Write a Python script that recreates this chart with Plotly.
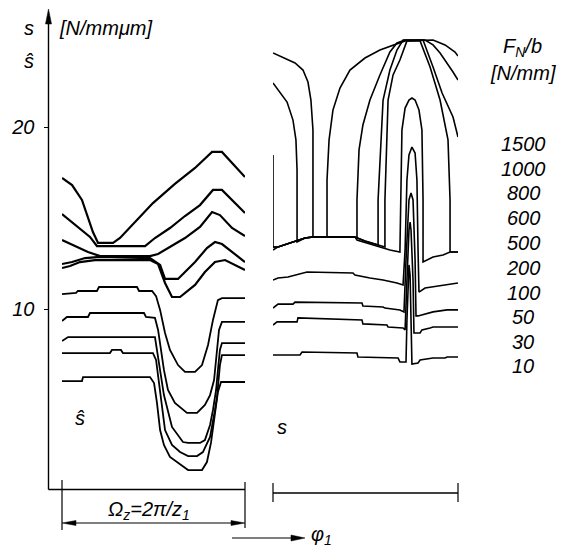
import plotly.graph_objects as go

# ---------------- data ----------------
# Left panel: tooth-pair stiffness s^ over one mesh period (phase in periods 0..1), s in N/(mm*um)
PHI_L_1500 = [0, 0.055, 0.109, 0.142, 0.169, 0.197, 0.279, 0.317, 0.399, 0.497, 0.617, 0.727, 0.820, 0.874, 1.0]
S_L_1500 = [17.20, 16.81, 15.99, 15.00, 14.23, 13.63, 13.63, 13.90, 14.78, 15.82, 16.87, 17.75, 18.63, 18.63, 17.25]

PHI_L_1000 = [0, 0.055, 0.109, 0.153, 0.191, 0.454, 0.508, 0.590, 0.672, 0.754, 0.825, 0.874, 1.0]
S_L_1000 = [15.22, 14.78, 14.34, 13.96, 13.46, 13.46, 13.90, 14.45, 15.11, 15.71, 16.54, 16.54, 15.27]

PHI_L_800 = [0, 0.071, 0.142, 0.208, 0.481, 0.525, 0.590, 0.672, 0.754, 0.820, 0.863, 0.929, 1.0]
S_L_800 = [13.79, 13.46, 13.13, 12.91, 12.91, 13.02, 13.41, 13.90, 14.51, 15.33, 15.16, 14.45, 14.01]

PHI_L_600 = [0, 0.055, 0.126, 0.208, 0.481, 0.536, 0.563, 0.634, 0.727, 0.792, 0.836, 0.874, 1.0]
S_L_600 = [12.47, 12.58, 12.80, 12.86, 12.80, 12.42, 11.65, 11.65, 12.58, 13.35, 13.68, 13.57, 12.58]

PHI_L_500 = [0, 0.044, 0.098, 0.180, 0.481, 0.525, 0.563, 0.601, 0.645, 0.727, 0.781, 0.836, 0.891, 1.0]
S_L_500 = [12.25, 12.36, 12.58, 12.69, 12.69, 12.47, 11.43, 10.66, 10.66, 11.32, 12.03, 12.58, 12.69, 12.14]

PHI_L_200 = [0, 0.077, 0.087, 0.191, 0.202, 0.410, 0.421, 0.492, 0.514, 0.536, 0.563, 0.590, 0.634,
             0.672, 0.727, 0.765, 0.798, 0.825, 0.852, 0.874, 1.0]
S_L_200 = [10.82, 10.88, 10.99, 10.99, 11.21, 11.21, 10.99, 10.99, 10.71, 9.95, 8.68, 7.75, 6.92,
           6.54, 6.54, 6.92, 8.02, 9.40, 10.49, 10.60, 10.60]

PHI_L_100 = [0, 0.027, 0.142, 0.153, 0.448, 0.459, 0.508, 0.525, 0.541, 0.557, 0.579, 0.617, 0.683,
             0.738, 0.781, 0.809, 0.831, 0.847, 0.858, 0.874, 1.0]
S_L_100 = [9.34, 9.56, 9.56, 9.78, 9.78, 9.56, 9.51, 8.85, 7.75, 6.65, 5.55, 4.84, 4.29,
           4.29, 4.73, 5.27, 6.10, 7.75, 8.85, 9.29, 9.29]

PHI_L_50 = [0, 0.033, 0.508, 0.519, 0.536, 0.557, 0.601, 0.661, 0.689, 0.754, 0.781, 0.809, 0.825,
            0.842, 0.852, 0.863, 0.874, 1.0]
S_L_50 = [8.24, 8.46, 8.46, 7.75, 6.65, 5.27, 3.52, 2.69, 2.64, 2.64, 2.80, 3.63, 4.45,
          5.55, 6.65, 7.75, 8.13, 8.13]

PHI_L_30 = [0, 0.262, 0.273, 0.322, 0.333, 0.497, 0.514, 0.525, 0.541, 0.563, 0.601, 0.645, 0.689,
            0.738, 0.770, 0.809, 0.836, 0.847, 0.863, 0.874, 1.0]
S_L_30 = [7.58, 7.58, 7.75, 7.75, 7.58, 7.58, 7.20, 6.37, 5.00, 3.35, 2.53, 2.14, 1.92,
          1.92, 2.14, 2.97, 4.45, 5.16, 6.92, 7.47, 7.47]

PHI_L_10 = [0, 0.109, 0.115, 0.481, 0.503, 0.519, 0.536, 0.557, 0.590, 0.661, 0.689, 0.765, 0.792,
            0.814, 0.836, 0.852, 0.869, 1.0]
S_L_10 = [6.04, 6.04, 6.26, 6.26, 5.93, 4.84, 3.35, 2.53, 1.87, 1.32, 1.15, 1.15, 1.59,
          2.64, 4.45, 5.44, 5.99, 5.99]

# Right panel: single-tooth stiffness s over one period
PHI_R_1500 = [0, 0.065, 0.119, 0.162, 0.189, 0.205, 0.216, 0.216, 0.292, 0.292, 0.303, 0.324, 0.362,
              0.416, 0.497, 0.578, 0.659, 0.714, 0.865, 0.930, 0.984, 1.0]
S_R_1500 = [24.07, 23.79, 23.52, 23.13, 22.47, 21.48, 19.84, 13.96, 13.96, 17.09, 19.29, 20.93, 22.14,
            23.13, 23.79, 24.23, 24.51, 24.73, 24.78, 24.51, 24.12, 23.90]

PHI_R_1000 = [0, 0.038, 0.076, 0.108, 0.124, 0.130, 0.130, 0.173, 0.216, 0.443, 0.454, 0.454, 0.465,
              0.486, 0.524, 0.578, 0.632, 0.670, 0.714, 0.822, 0.865, 0.903, 0.941, 0.973, 1.0]
S_R_1000 = [22.42, 21.92, 21.37, 20.38, 19.29, 17.64, 13.68, 13.90, 13.96, 13.96, 13.90, 15.99, 18.74,
            20.11, 21.48, 22.86, 24.12, 24.62, 24.78, 24.78, 24.51, 24.07, 23.52, 23.02, 22.58]

PHI_R_800 = [0, 0, 0.027, 0.108, 0.173, 0.216, 0.443, 0.497, 0.568, 0.568, 0.595, 0.632, 0.670,
             0.703, 0.811, 0.865, 0.914, 0.973, 1.0]
S_R_800 = [18.46, 13.41, 13.41, 13.68, 13.90, 13.96, 13.96, 13.74, 13.52, 15.99, 21.48, 23.13, 24.23,
           24.78, 24.78, 23.30, 21.87, 20.55, 19.45]

PHI_R_600 = [0, 0.027, 0.108, 0.173, 0.216, 0.443, 0.497, 0.568, 0.605, 0.605, 0.622, 0.649, 0.686,
             0.724, 0.795, 0.849, 0.903, 0.946, 0.957, 0.957, 1.0]
S_R_600 = [13.41, 13.41, 13.68, 13.90, 13.96, 13.96, 13.74, 13.52, 13.41, 15.99, 21.48, 22.86, 23.68,
           24.73, 24.73, 23.30, 21.48, 19.29, 15.99, 13.13, 13.13]

PHI_R_500 = [0, 0.027, 0.108, 0.173, 0.216, 0.443, 0.454, 0.508, 0.578, 0.632, 0.686, 0.692, 0.697,
             0.714, 0.735, 0.751, 0.768, 0.789, 0.805, 0.811, 0.811, 0.865, 0.919, 0.957, 1.0]
S_R_500 = [13.24, 13.41, 13.68, 13.90, 13.96, 13.96, 13.79, 13.63, 13.41, 13.24, 13.13, 15.99, 19.84,
           21.04, 21.48, 21.59, 21.48, 20.93, 19.84, 15.99, 12.58, 12.86, 12.97, 13.13, 13.13]

PHI_R_200 = [0, 0.027, 0.081, 0.184, 0.432, 0.443, 0.524, 0.595, 0.670, 0.703, 0.714, 0.724, 0.735,
             0.751, 0.768, 0.778, 0.784, 0.789, 0.822, 0.865, 0.941, 1.0]
S_R_200 = [11.59, 11.70, 11.76, 12.03, 11.98, 11.87, 11.70, 11.59, 11.43, 11.32, 13.24, 17.09, 18.46,
           18.90, 18.57, 17.09, 13.24, 10.93, 11.15, 11.21, 11.32, 11.43]

PHI_R_100 = [0, 0.027, 0.108, 0.119, 0.481, 0.486, 0.595, 0.605, 0.686, 0.708, 0.719, 0.735, 0.746,
             0.757, 0.768, 0.773, 0.784, 0.805, 0.838, 0.865, 0.941, 1.0]
S_R_100 = [10.05, 10.27, 10.27, 10.38, 10.33, 10.16, 10.11, 10.05, 9.95, 9.84, 12.69, 15.99, 16.37,
           15.99, 12.69, 9.62, 9.62, 9.67, 9.78, 9.84, 9.95, 9.95]

PHI_R_50 = [0, 0.022, 0.130, 0.135, 0.481, 0.486, 0.616, 0.622, 0.703, 0.714, 0.724, 0.735, 0.741,
            0.746, 0.757, 0.762, 0.795, 0.805, 0.849, 0.865, 1.0]
S_R_50 = [9.12, 9.29, 9.29, 9.51, 9.40, 9.18, 9.12, 9.01, 8.96, 8.85, 11.59, 14.34, 14.78,
          14.34, 11.59, 8.68, 8.68, 8.85, 8.96, 9.01, 9.01]

PHI_R_30 = [0, 0.146, 0.157, 0.454, 0.459, 0.676, 0.686, 0.719, 0.724, 0.730, 0.735, 0.741, 0.746,
            0.751, 0.784, 0.795, 0.865, 0.930, 0.941, 1.0]
S_R_30 = [7.47, 7.47, 7.64, 7.58, 7.36, 7.31, 7.09, 7.09, 9.40, 11.87, 12.42, 11.87, 9.40,
          6.98, 7.03, 7.20, 7.31, 7.31, 7.36, 7.36]

LOAD_LEVELS = ["1500", "1000", "800", "600", "500", "200", "100", "50", "30", "10"]
Y_TICKS = [10, 20]
Y_RANGE = [-3.187, 26.978]

# ---------------- figure ----------------
W, H = 564, 549
FONT = "Liberation Sans, Arial, sans-serif"

def px(x):
    return x / W

def py(y):
    return 1 - y / H

fig = go.Figure()

left = [(PHI_L_1500, S_L_1500, 2.2), (PHI_L_1000, S_L_1000, 2.2), (PHI_L_800, S_L_800, 2.2),
        (PHI_L_600, S_L_600, 2.2), (PHI_L_500, S_L_500, 2.2), (PHI_L_200, S_L_200, 1.8),
        (PHI_L_100, S_L_100, 1.8), (PHI_L_50, S_L_50, 1.8), (PHI_L_30, S_L_30, 1.8),
        (PHI_L_10, S_L_10, 1.8)]
right = [(PHI_R_1500, S_R_1500), (PHI_R_1000, S_R_1000), (PHI_R_800, S_R_800),
         (PHI_R_600, S_R_600), (PHI_R_500, S_R_500), (PHI_R_200, S_R_200),
         (PHI_R_100, S_R_100), (PHI_R_50, S_R_50), (PHI_R_30, S_R_30)]

for xs, ys, w in left:
    fig.add_trace(go.Scatter(x=xs, y=ys, mode="lines", line=dict(color="black", width=w),
                             xaxis="x", yaxis="y", showlegend=False, hoverinfo="skip"))
for xs, ys in right:
    fig.add_trace(go.Scatter(x=xs, y=ys, mode="lines", line=dict(color="black", width=1.6),
                             xaxis="x2", yaxis="y", showlegend=False, hoverinfo="skip"))

shapes = []
def line(x0, y0, x1, y1, w=1.3):
    shapes.append(dict(type="line", xref="paper", yref="paper", x0=px(x0), y0=py(y0),
                       x1=px(x1), y1=py(y1), line=dict(color="black", width=w)))

def head(tip_x, tip_y, base_x, base_y, half):
    # filled triangular arrowhead, drawn in paper coordinates
    if tip_x == base_x:
        p = [(tip_x, tip_y), (base_x - half, base_y), (base_x + half, base_y)]
    else:
        p = [(tip_x, tip_y), (base_x, base_y - half), (base_x, base_y + half)]
    d = "M " + " L ".join(f"{px(a):.5f},{py(b):.5f}" for a, b in p) + " Z"
    shapes.append(dict(type="path", xref="paper", yref="paper", path=d,
                       fillcolor="black", line=dict(color="black", width=0.5)))

# y axis with arrow
line(48.5, 22, 48.5, 489.5, 1.4)
head(48.5, 9, 48.5, 24, 3)
# bottom axis line and left bracket
line(48.5, 489.5, 245, 489.5, 1.6)
line(62, 480, 62, 530, 1.2)
line(245, 482, 245, 528, 1.2)
# Omega dimension arrow
line(72, 523, 235, 523, 1.2)
head(62, 523, 76, 523, 2.5)
head(245, 523, 231, 523, 2.5)
# right bracket
line(273, 493, 458, 493, 1.4)
line(273, 483, 273, 502, 1.2)
line(458, 483, 458, 502, 1.2)
# phi arrow
line(232, 538, 294, 538, 1.2)
head(305, 538, 291, 538, 3)

annotations = []
def text(x, y, t, size=20, xanchor="center"):
    annotations.append(dict(x=px(x), y=py(y), xref="paper", yref="paper", text=t, showarrow=False,
                            xanchor=xanchor, yanchor="middle",
                            font=dict(family=FONT, size=size, color="black", style="italic")))

text(29, 28, "s")
text(57, 28, "[N/mmμm]", xanchor="left")
text(29, 61, "ŝ")
text(80, 418, "ŝ")
text(282, 427, "s")
text(149, 510, "Ω<sub>z</sub>=2π/z<sub>1</sub>")
text(309, 535, "φ<sub>1</sub>", xanchor="left")
text(522, 48, "F<sub>N</sub>/b")
text(523, 73, "[N/mm]")
LEGEND_Y = [144, 169, 193, 218, 243, 268, 293, 317, 342, 366]
for lab, yy in zip(LOAD_LEVELS, LEGEND_Y):
    text(523, yy, lab)

fig.update_layout(
    width=W, height=H, autosize=False,
    margin=dict(l=0, r=0, t=0, b=0, pad=0),
    paper_bgcolor="white", plot_bgcolor="white",
    showlegend=False,
    xaxis=dict(domain=[62 / W, 245 / W], range=[0, 1], visible=False, fixedrange=True),
    xaxis2=dict(domain=[273 / W, 458 / W], range=[0, 1], visible=False, anchor="y", fixedrange=True),
    yaxis=dict(domain=[0, 1], range=Y_RANGE, anchor="free", position=48.5 / W,
               tickvals=Y_TICKS, ticktext=[str(v) for v in Y_TICKS],
               ticks="outside", ticklen=5, tickwidth=1.2, tickcolor="black",
               ticklabelstandoff=5,
               showgrid=False, zeroline=False, showline=False, automargin=False,
               tickfont=dict(family=FONT, size=20, color="black", style="italic"),
               fixedrange=True),
    shapes=shapes,
    annotations=annotations,
)

fig.write_html("out.html", config={"displayModeBar": False},
               post_script="document.body.style.margin='0';document.body.style.overflow='hidden';")
